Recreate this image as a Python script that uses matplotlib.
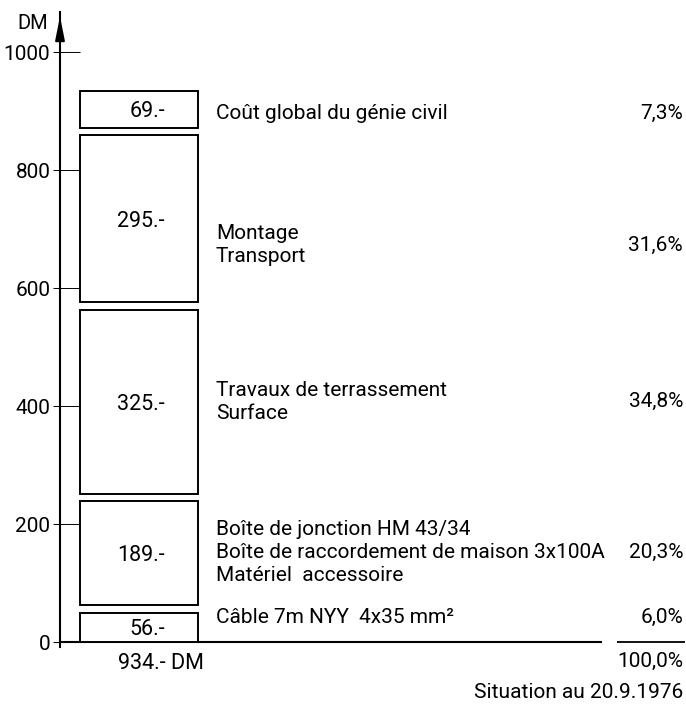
"""
Cost breakdown of a cable connection (stacked bar with gaps)
"""
import matplotlib.pyplot as plt

plt.rcParams['font.family'] = ['Roboto', 'DejaVu Sans']

# data, bottom to top
values = [56, 189, 325, 295, 69]
value_labels = ['56.-', '189.-', '325.-', '295.-', '69.-']
descriptions = [
    'Câble 7m NYY  4x35 mm²',
    'Boîte de jonction HM 43/34\nBoîte de raccordement de maison 3x100A\nMatériel  accessoire',
    'Travaux de terrassement\nSurface',
    'Montage\nTransport',
    'Coût global du génie civil',
]
percents = ['6,0%', '20,3%', '34,8%', '31,6%', '7,3%']
total_label = '934.- DM'
total_percent = '100,0%'
note = 'Situation au 20.9.1976'
yticks = [0, 200, 400, 600, 800, 1000]

# where the text rows sit (in DM units)
text_y = [42, 152, 407, 673, 896]

# ---- layout in pixels ----
W, H = 686, 707
k = 0.59              # px per DM
y0_px = 642           # pixel row of 0 DM
x_axis_px = 60
ymin, ymax = -8, 1068
gap = 13
fs = 15

fig = plt.figure(figsize=(W / 100, H / 100), dpi=100)
bottom_px = H - (y0_px - ymin * k)
top_px = H - (y0_px - ymax * k)
ax = fig.add_axes([x_axis_px / W, bottom_px / H, (W - x_axis_px) / W, (top_px - bottom_px) / H])
ax.set_xlim(0, W - x_axis_px)
ax.set_ylim(ymin, ymax)

for s in ['top', 'right', 'bottom']:
    ax.spines[s].set_visible(False)
ax.spines['left'].set_linewidth(1.5)
ax.set_xticks([])
ax.set_yticks(yticks)
ax.tick_params(axis='y', direction='out', length=5, width=0.7, pad=2, labelsize=fs)

# arrow on the y axis
ax.annotate('', xy=(0, ymax - 3), xytext=(0, ymax - 40),
            arrowprops=dict(arrowstyle='-|>,head_length=1.0,head_width=0.2',
                            lw=1.5, color='k', mutation_scale=14),
            annotation_clip=False)
ax.text(-27, 1051, 'DM', ha='center', va='center_baseline', fontsize=fs - 0.5)

# inner part of the ticks, up to the boxes
box_left, box_right = 20, 138
ax.hlines(yticks[1:], 0, box_left, color='k', lw=0.7)

# boxes
cum = 0
for i, v in enumerate(values):
    lo = cum + (gap / 2 if i > 0 else 0)
    hi = cum + v - (gap / 2 if i < len(values) - 1 else 0)
    ax.bar(box_left, hi - lo, bottom=lo, width=box_right - box_left, align='edge',
           facecolor='white', edgecolor='k', lw=1.4, zorder=3)
    ax.text(105, (lo + hi) / 2, value_labels[i], ha='right', va='center_baseline',
            fontsize=fs + 0.5, zorder=4)
    cum += v

# descriptions and percentages
for i in range(len(values)):
    ax.text(156, text_y[i], descriptions[i], ha='left', va='center',
            fontsize=fs, linespacing=1.25)
    ax.text(W - x_axis_px - 3, text_y[i], percents[i], ha='right', va='center',
            fontsize=fs, clip_on=False)

# baseline and sum
ax.plot([0, 542], [0, 0], color='k', lw=1.5, solid_capstyle='butt')
ax.plot([557, 625], [0, 0], color='k', lw=1.3, solid_capstyle='butt')
ax.text(58, -33, total_label, ha='left', va='center_baseline', fontsize=fs + 0.5)
ax.text(W - x_axis_px - 3, -33, total_percent, ha='right', va='center', fontsize=fs)
ax.text(W - x_axis_px - 3, -86, note, ha='right', va='center', fontsize=fs,
        clip_on=False)

fig.savefig('out.png', dpi=100)
